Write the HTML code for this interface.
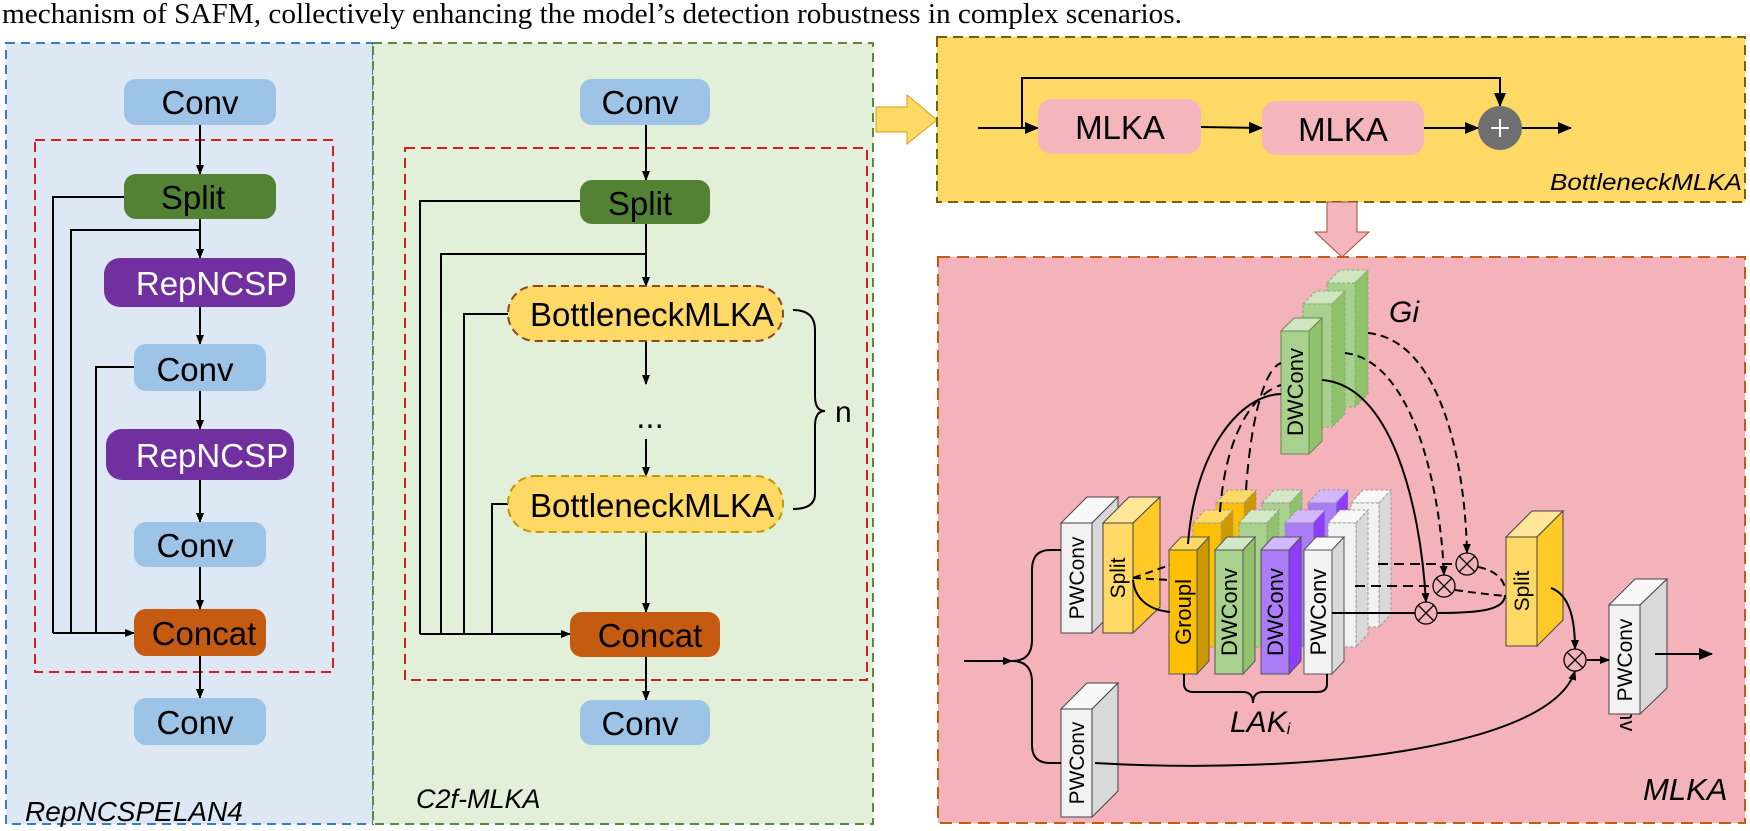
<!DOCTYPE html>
<html><head><meta charset="utf-8"><style>
html,body{margin:0;padding:0;background:#fff;}
svg{display:block;}
text{font-family:"Liberation Sans",sans-serif;}
</style></head><body>
<svg width="1750" height="831" viewBox="0 0 1750 831" xmlns="http://www.w3.org/2000/svg">
<defs>
<marker id="ar" markerWidth="10" markerHeight="10" refX="9" refY="5" orient="auto" markerUnits="userSpaceOnUse"><path d="M0,1 L10,5 L0,9 z" fill="#000"/></marker>
<marker id="ar2" markerWidth="14" markerHeight="12" refX="13" refY="6" orient="auto" markerUnits="userSpaceOnUse"><path d="M0,0 L14,6 L0,12 z" fill="#000"/></marker>
</defs>
<text x="2" y="23" style="font-family:'Liberation Serif',serif;font-size:29px" textLength="1180" lengthAdjust="spacingAndGlyphs">mechanism of  SAFM, collectively enhancing the model’s detection robustness in complex scenarios.</text>

<rect x="6" y="43" width="367" height="781" fill="#dde8f4" stroke="#3a7cc4" stroke-width="2" stroke-dasharray="9,6"/>
<rect x="373" y="43" width="500" height="781" fill="#e2efd9" stroke="#5a8a3a" stroke-width="2" stroke-dasharray="9,6"/>
<rect x="35" y="140" width="298" height="532" fill="none" stroke="#d62020" stroke-width="2" stroke-dasharray="10,6"/>
<rect x="405" y="148" width="462" height="532" fill="none" stroke="#d62020" stroke-width="2" stroke-dasharray="10,6"/>

<g stroke="#000" stroke-width="2" fill="none">
<line x1="200" y1="125" x2="200" y2="174" marker-end="url(#ar)"/>
<line x1="200" y1="219" x2="200" y2="258" marker-end="url(#ar)"/>
<line x1="200" y1="307" x2="200" y2="344" marker-end="url(#ar)"/>
<line x1="200" y1="391" x2="200" y2="429" marker-end="url(#ar)"/>
<line x1="200" y1="480" x2="200" y2="522" marker-end="url(#ar)"/>
<line x1="200" y1="567" x2="200" y2="609" marker-end="url(#ar)"/>
<line x1="200" y1="656" x2="200" y2="698" marker-end="url(#ar)"/>
<polyline points="124,197 53,197 53,633"/>
<polyline points="200,230 71,230 71,633"/>
<polyline points="134,367 96,367 96,633"/>
<line x1="53" y1="633" x2="134" y2="633" marker-end="url(#ar)"/>
</g>
<g font-size="33" text-anchor="middle">
<rect x="124" y="79" width="152" height="46" rx="12" fill="#9dc3e6"/><text x="200" y="114">Conv</text>
<rect x="124" y="174" width="152" height="45" rx="12" fill="#548235"/><text x="193" y="209">Split</text>
<rect x="104" y="258" width="191" height="49" rx="16" fill="#7030a0"/><text x="212" y="295" fill="#fff">RepNCSP</text>
<rect x="134" y="344" width="132" height="47" rx="12" fill="#9dc3e6"/><text x="195" y="381">Conv</text>
<rect x="106" y="429" width="188" height="51" rx="16" fill="#7030a0"/><text x="212" y="467" fill="#fff">RepNCSP</text>
<rect x="134" y="522" width="132" height="45" rx="12" fill="#9dc3e6"/><text x="195" y="557">Conv</text>
<rect x="134" y="609" width="132" height="47" rx="12" fill="#c55a11"/><text x="204" y="645">Concat</text>
<rect x="134" y="698" width="132" height="47" rx="12" fill="#9dc3e6"/><text x="195" y="734">Conv</text>
</g>
<text x="25" y="821" font-size="28" font-style="italic">RepNCSPELAN4</text>

<g stroke="#000" stroke-width="2" fill="none">
<line x1="646" y1="125" x2="646" y2="180" marker-end="url(#ar)"/>
<line x1="646" y1="224" x2="646" y2="286" marker-end="url(#ar)"/>
<line x1="646" y1="341" x2="646" y2="384" marker-end="url(#ar)"/>
<line x1="646" y1="439" x2="646" y2="476" marker-end="url(#ar)"/>
<line x1="646" y1="532" x2="646" y2="612" marker-end="url(#ar)"/>
<line x1="646" y1="657" x2="646" y2="700" marker-end="url(#ar)"/>
<polyline points="580,201 420,201 420,634"/>
<polyline points="646,254 441,254 441,634"/>
<polyline points="508,314 464,314 464,634"/>
<polyline points="508,504 492,504 492,634"/>
<line x1="420" y1="634" x2="570" y2="634" marker-end="url(#ar)"/>
<path d="M793,310 Q815,310 815,330 L815,396 Q815,411 825,411 Q815,411 815,426 L815,494 Q815,509 793,509"/>
</g>
<g font-size="33" text-anchor="middle">
<rect x="580" y="79" width="130" height="46" rx="12" fill="#9dc3e6"/><text x="640" y="114">Conv</text>
<rect x="580" y="180" width="130" height="44" rx="12" fill="#548235"/><text x="640" y="215">Split</text>
<rect x="508" y="286" width="275" height="55" rx="27" fill="#ffd966" stroke="#8a4a1a" stroke-width="2" stroke-dasharray="8,5"/><text x="652" y="326">BottleneckMLKA</text>
<text x="650" y="428">...</text>
<rect x="508" y="476" width="275" height="56" rx="27" fill="#ffd966" stroke="#c09a00" stroke-width="2" stroke-dasharray="8,5"/><text x="652" y="517">BottleneckMLKA</text>
<rect x="570" y="612" width="150" height="45" rx="12" fill="#c55a11"/><text x="650" y="647">Concat</text>
<rect x="580" y="700" width="130" height="45" rx="12" fill="#9dc3e6"/><text x="640" y="735">Conv</text>
</g>
<text x="835" y="422" font-size="30">n</text>
<text x="416" y="808" font-size="27" font-style="italic">C2f-MLKA</text>

<polygon points="876,107 907,107 907,95 937,120 907,144 907,132 876,132" fill="#ffd966" stroke="#d4a017" stroke-width="1"/>

<rect x="937" y="37" width="808" height="165" fill="#ffd966" stroke="#7f6000" stroke-width="2" stroke-dasharray="10,6"/>
<g stroke="#000" stroke-width="2" fill="none">
<line x1="978" y1="128" x2="1038" y2="128" marker-end="url(#ar2)"/>
<polyline points="1022,128 1022,78 1500,78 1500,106" marker-end="url(#ar2)"/>
<line x1="1201" y1="127" x2="1262" y2="128" marker-end="url(#ar2)"/>
<line x1="1424" y1="128" x2="1478" y2="128" marker-end="url(#ar2)"/>
<line x1="1522" y1="128" x2="1571" y2="128" marker-end="url(#ar2)"/>
</g>
<rect x="1038" y="99" width="163" height="55" rx="14" fill="#f4b6bc"/>
<rect x="1262" y="101" width="162" height="54" rx="14" fill="#f4b6bc"/>
<g font-size="33" text-anchor="middle"><text x="1120" y="139">MLKA</text><text x="1343" y="141">MLKA</text></g>
<ellipse cx="1500" cy="128" rx="22" ry="22" fill="#707070"/>
<path d="M1500,119 V137 M1491,128 H1509" stroke="#fff" stroke-width="2"/>
<text x="1742" y="190" font-size="23" font-style="italic" text-anchor="end" textLength="192" lengthAdjust="spacingAndGlyphs">BottleneckMLKA</text>

<polygon points="1327,202 1357,202 1357,232 1369,232 1342,257 1315,232 1327,232" fill="#f4b6bc" stroke="#a0522d" stroke-width="1"/>

<rect x="938" y="257" width="807" height="566" fill="#f4b3bb" stroke="#c55a11" stroke-width="2" stroke-dasharray="12,7"/>

<g stroke="#8aa870" stroke-width="1" stroke-dasharray="3,2">
<polygon points="1327,283 1340,270 1368,270 1355,283" fill="#cfe6bf"/>
<polygon points="1355,283 1368,270 1368,394 1355,407" fill="#8fc26a"/>
<rect x="1327" y="283" width="28" height="124" fill="#a9d18e"/>
<polygon points="1303,304 1316,291 1345,291 1332,304" fill="#cfe6bf"/>
<polygon points="1332,304 1345,291 1345,414 1332,427" fill="#8fc26a"/>
<rect x="1303" y="304" width="29" height="123" fill="#a9d18e"/>
</g>
<g stroke="#6a8a50" stroke-width="1">
<polygon points="1281,331 1294,318 1322,318 1309,331" fill="#cfe6bf"/>
<polygon points="1309,331 1322,318 1322,441 1309,454" fill="#8fc26a"/>
<rect x="1281" y="331" width="28" height="123" fill="#a9d18e"/>
</g>
<text transform="translate(1303,392) rotate(-90)" font-size="22" text-anchor="middle">DWConv</text>
<text x="1389" y="322" font-size="30" font-style="italic">Gi</text>

<g stroke="#999" stroke-width="1" stroke-dasharray="3,2">
<g transform="translate(47,-47)">
<polygon points="1169,550 1181,537 1209,537 1197,550" fill="#ffd966"/><polygon points="1197,550 1209,537 1209,661 1197,674" fill="#cc9a00"/><rect x="1169" y="550" width="28" height="124" fill="#ffc000"/>
<polygon points="1215,550 1227,537 1255,537 1243,550" fill="#d3e8c4"/><polygon points="1243,550 1255,537 1255,661 1243,674" fill="#8fc26a"/><rect x="1215" y="550" width="28" height="124" fill="#a9d18e"/>
<polygon points="1261,550 1273,537 1301,537 1289,550" fill="#d4b8ff"/><polygon points="1289,550 1301,537 1301,661 1289,674" fill="#8c3dff"/><rect x="1261" y="550" width="28" height="124" fill="#ab7cf7"/>
<polygon points="1304,550 1316,537 1344,537 1332,550" fill="#f8f8f8"/><polygon points="1332,550 1344,537 1344,661 1332,674" fill="#d9d9d9"/><rect x="1304" y="550" width="28" height="124" fill="#f2f2f2"/>
</g>
<g transform="translate(24,-27)">
<polygon points="1169,550 1181,537 1209,537 1197,550" fill="#ffd966"/><polygon points="1197,550 1209,537 1209,661 1197,674" fill="#cc9a00"/><rect x="1169" y="550" width="28" height="124" fill="#ffc000"/>
<polygon points="1215,550 1227,537 1255,537 1243,550" fill="#d3e8c4"/><polygon points="1243,550 1255,537 1255,661 1243,674" fill="#8fc26a"/><rect x="1215" y="550" width="28" height="124" fill="#a9d18e"/>
<polygon points="1261,550 1273,537 1301,537 1289,550" fill="#d4b8ff"/><polygon points="1289,550 1301,537 1301,661 1289,674" fill="#8c3dff"/><rect x="1261" y="550" width="28" height="124" fill="#ab7cf7"/>
<polygon points="1304,550 1316,537 1344,537 1332,550" fill="#f8f8f8"/><polygon points="1332,550 1344,537 1344,661 1332,674" fill="#d9d9d9"/><rect x="1304" y="550" width="28" height="124" fill="#f2f2f2"/>
</g>
</g>
<g stroke="#000" stroke-width="2" fill="none" stroke-dasharray="10,6">
<line x1="1378" y1="564" x2="1456" y2="564"/>
<line x1="1355" y1="586" x2="1433" y2="586"/>
<path d="M1220,512 C1225,440 1250,395 1281,385"/>
<path d="M1246,490 C1250,430 1262,370 1281,363"/>
</g>
<g stroke="#555" stroke-width="1">
<polygon points="1169,550 1181,537 1209,537 1197,550" fill="#ffd966"/><polygon points="1197,550 1209,537 1209,661 1197,674" fill="#cc9a00"/><rect x="1169" y="550" width="28" height="124" fill="#ffc000"/>
<polygon points="1215,550 1227,537 1255,537 1243,550" fill="#d3e8c4"/><polygon points="1243,550 1255,537 1255,661 1243,674" fill="#8fc26a"/><rect x="1215" y="550" width="28" height="124" fill="#a9d18e"/>
<polygon points="1261,550 1273,537 1301,537 1289,550" fill="#d4b8ff"/><polygon points="1289,550 1301,537 1301,661 1289,674" fill="#8c3dff"/><rect x="1261" y="550" width="28" height="124" fill="#ab7cf7"/>
<polygon points="1304,550 1316,537 1344,537 1332,550" fill="#f8f8f8"/><polygon points="1332,550 1344,537 1344,661 1332,674" fill="#d9d9d9"/><rect x="1304" y="550" width="28" height="124" fill="#f2f2f2"/>
</g>
<g font-size="22" text-anchor="middle">
<text transform="translate(1191,612) rotate(-90)">Groupl</text>
<text transform="translate(1237,612) rotate(-90)">DWConv</text>
<text transform="translate(1283,612) rotate(-90)">DWConv</text>
<text transform="translate(1326,612) rotate(-90)">PWConv</text>
</g>
<path d="M1184,674 V684 Q1184,692 1194,692 H1243 Q1253,692 1253,703 Q1253,692 1263,692 H1317 Q1327,692 1327,684 V674" stroke="#000" stroke-width="2" fill="none"/>
<text x="1230" y="732" font-size="30" font-style="italic">LAK<tspan font-size="16" dy="2">i</tspan></text>

<g stroke="#444" stroke-width="1">
<polygon points="1061,523 1087,497 1118,497 1092,523" fill="#f8f8f8"/><polygon points="1092,523 1118,497 1118,607 1092,633" fill="#d9d9d9"/><rect x="1061" y="523" width="31" height="110" fill="#f2f2f2"/>
<polygon points="1103,523 1129,497 1160,497 1133,523" fill="#ffe699"/><polygon points="1133,523 1160,497 1160,607 1133,633" fill="#ffca28"/><rect x="1103" y="523" width="30" height="110" fill="#ffd966"/>
<polygon points="1061,709 1087,683 1118,683 1092,709" fill="#f8f8f8"/><polygon points="1092,709 1118,683 1118,791 1092,817" fill="#d9d9d9"/><rect x="1061" y="709" width="31" height="108" fill="#f2f2f2"/>
<polygon points="1506,537 1532,511 1563,511 1537,537" fill="#ffe699"/><polygon points="1537,537 1563,511 1563,620 1537,646" fill="#ffca28"/><rect x="1506" y="537" width="31" height="109" fill="#ffd966"/>
</g>
<g font-size="21" text-anchor="middle">
<text transform="translate(1084,578) rotate(-90)">PWConv</text>
<text transform="translate(1125,578) rotate(-90)">Split</text>
<text transform="translate(1084,763) rotate(-90)">PWConv</text>
<text transform="translate(1529,591) rotate(-90)">Split</text>
</g>
<text transform="translate(1620,680) rotate(90)" font-size="22">Conv</text>
<g stroke="#444" stroke-width="1">
<polygon points="1609,605 1635,579 1667,579 1640,605" fill="#f8f8f8"/><polygon points="1640,605 1667,579 1667,688 1640,714" fill="#d9d9d9"/><rect x="1609" y="605" width="31" height="109" fill="#f2f2f2"/>
</g>
<text transform="translate(1632,660) rotate(-90)" font-size="21" text-anchor="middle">PWConv</text>
<text x="1643" y="800" font-size="31" font-style="italic">MLKA</text>

<g stroke="#000" stroke-width="2" fill="none">
<line x1="964" y1="661" x2="1012" y2="661" marker-end="url(#ar)"/>
<path d="M1012,661 Q1032,661 1032,640 V570 Q1032,550 1050,550 H1061"/>
<path d="M1012,661 Q1032,661 1032,682 V745 Q1032,763 1050,763 H1061"/>
<path d="M1133,580 C1135,600 1150,610 1170,612"/>
<path d="M1188,544 C1195,450 1240,395 1281,394"/>
<path d="M1322,380 C1390,385 1420,500 1426,602" marker-end="url(#ar)"/>
<line x1="1332" y1="613" x2="1415" y2="613"/>
<path d="M1437,613 C1480,613 1505,610 1505,595"/>
<path d="M1551,588 C1570,595 1575,620 1575,649" marker-end="url(#ar)"/>
<path d="M1095,763 C1300,775 1550,750 1575,671" marker-end="url(#ar)"/>
<line x1="1587" y1="660" x2="1609" y2="660" marker-end="url(#ar)"/>
<line x1="1655" y1="654" x2="1712" y2="654" marker-end="url(#ar2)"/>
</g>
<g stroke="#000" stroke-width="2" fill="none" stroke-dasharray="8,5">
<path d="M1133,578 L1170,565 M1133,578 L1170,580"/>
<path d="M1345,353 C1410,360 1440,480 1444,575" marker-end="url(#ar)"/>
<path d="M1368,333 C1440,340 1465,460 1467,553" marker-end="url(#ar)"/>
<path d="M1478,567 C1495,570 1505,580 1505,590"/>
<path d="M1455,590 C1475,593 1495,595 1505,596"/>
</g>
<g stroke="#000" stroke-width="1.3" fill="#f4b3bb">
<circle cx="1467" cy="564" r="11"/><path d="M1459,556 L1475,572 M1475,556 L1459,572"/>
<circle cx="1444" cy="586" r="11"/><path d="M1436,578 L1452,594 M1452,578 L1436,594"/>
<circle cx="1426" cy="613" r="11"/><path d="M1418,605 L1434,621 M1434,605 L1418,621"/>
<circle cx="1575" cy="660" r="11"/><path d="M1567,652 L1583,668 M1583,652 L1567,668"/>
</g>
</svg>
</body></html>
